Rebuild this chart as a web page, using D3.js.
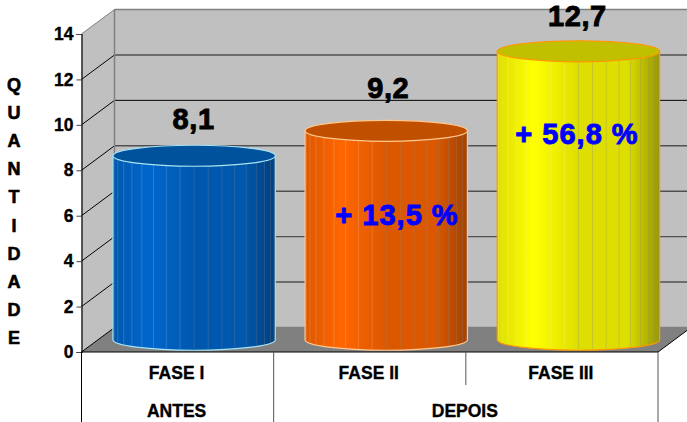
<!DOCTYPE html>
<html lang="en">
<head>
<meta charset="UTF-8">
<title>Quantidade por fase</title>
<script src="https://d3js.org/d3.v7.min.js"></script>
<style>
    body { margin: 0; background: #fff; }
    svg { display: block; }
    text { font-family: "Liberation Sans", Arial, sans-serif; font-weight: bold; fill: #000; }
    .cat-label { font-size: 17.5px; text-anchor: middle; stroke: #000; stroke-width: 0.35px; }
    .value-label { font-size: 29px; text-anchor: middle; letter-spacing: 0.6px; stroke: #000; stroke-width: 0.9px; }
    .pct-label { font-size: 29px; text-anchor: middle; letter-spacing: 1px; fill: #0000ff; stroke: #0000ff; stroke-width: 0.9px; }
    .title-letter { font-size: 18px; text-anchor: middle; stroke: #000; stroke-width: 0.6px; }
</style>
</head>
<body>
<svg class="chart" width="687" height="422"></svg>
<script>
    const categories = ["FASE I", "FASE II", "FASE III"];
    const values = [8.1, 9.2, 12.7];
    const valueLabels = ["8,1", "9,2", "12,7"];
    const pctLabels = [null, "+ 13,5 %", "+ 56,8 %"];
    const yTicks = [0, 2, 4, 6, 8, 10, 12, 14];
    const groups = ["ANTES", "DEPOIS"];
    const groupSpans = [[0, 0], [1, 2]];
    const yTitle = "QUANTIDADE";
    const barColors = [
        { light: "#0066cc", mid: "#0058ae", dark: "#003f7e", top: "#00529c", edge: "#a6e4f4" },
        { light: "#ff6600", mid: "#dc5800", dark: "#a34200", top: "#c05000", edge: "#ffc890" },
        { light: "#ffff00", mid: "#dede00", dark: "#999900", top: "#c0c000", edge: "#ff9900" }
    ];

    const svg = d3.select(".chart");
    const depthX = 33, depthY = 24.5;

    const x = d3.scaleBand().domain(categories).range([81.5, 658]);
    const y = d3.scaleLinear().domain([0, 14]).range([352, 34]);

    // back wall, side wall, floor
    const poly = pts => pts.map(p => p.join(",")).join(" ");
    const x0 = x.range()[0], x1 = x.range()[1];
    svg.append("polygon").attr("fill", "#c0c0c0")
        .attr("points", poly([[x0 + depthX, y(14) - depthY], [x1 + depthX, y(14) - depthY], [x1 + depthX, y(0) - depthY], [x0 + depthX, y(0) - depthY]]));
    svg.append("polygon").attr("fill", "#c0c0c0")
        .attr("points", poly([[x0, y(14)], [x0 + depthX, y(14) - depthY], [x0 + depthX, y(0) - depthY], [x0, y(0)]]));
    svg.append("polygon").attr("fill", "#808080")
        .attr("points", poly([[x0, y(0)], [x1, y(0)], [x1 + depthX, y(0) - depthY], [x0 + depthX, y(0) - depthY]]));

    // gridlines
    const grid = svg.append("g").attr("fill", "none");
    yTicks.forEach(t => {
        const c = t === 14 || t === 0 ? "#808080" : (t === 10 ? "#000" : "#505050");
        grid.append("line").attr("x1", x0 + depthX).attr("x2", x1 + depthX)
            .attr("y1", y(t) - depthY).attr("y2", y(t) - depthY)
            .attr("stroke", c).attr("stroke-width", t === 10 ? 1 : 1.4);
        grid.append("line").attr("x1", x0).attr("x2", x0 + depthX)
            .attr("y1", y(t)).attr("y2", y(t) - depthY)
            .attr("stroke", t === 14 ? "#808080" : "#000").attr("stroke-width", 1);
    });
    grid.append("line").attr("x1", x0 + depthX).attr("x2", x0 + depthX)
        .attr("y1", y(14) - depthY).attr("y2", y(0) - depthY)
        .attr("stroke", "#808080").attr("stroke-width", 1.5);
    grid.append("line").attr("x1", x1).attr("x2", x1 + depthX)
        .attr("y1", y(0)).attr("y2", y(0) - depthY).attr("stroke", "#000");

    // cylinders
    const defs = svg.append("defs");
    barColors.forEach((c, i) => {
        const g = defs.append("linearGradient").attr("id", "cyl" + i);
        [[0, c.mid], [0.22, c.light], [0.5, c.mid], [0.8, c.mid], [1, c.dark]].forEach(s => {
            g.append("stop").attr("offset", s[0]).attr("stop-color", s[1]);
        });
    });
    const barWidth = x.bandwidth() * 0.845;
    const ry = 10.5;
    const facets = d3.range(1, 18);

    categories.forEach((cat, i) => {
        const cx = x(cat) + x.bandwidth() / 2 + depthX / 2;
        const rx = barWidth / 2;
        const base = y(0) - depthY / 2;
        const top = y(values[i]) - depthY / 2;
        const c = barColors[i];
        const g = svg.append("g");
        g.append("path")
            .attr("d", `M${cx - rx},${top} L${cx - rx},${base} A${rx},${ry} 0 0 0 ${cx + rx},${base} L${cx + rx},${top} Z`)
            .attr("fill", `url(#cyl${i})`).attr("stroke", c.edge).attr("stroke-width", 1.2);
        // facet lines down the side
        facets.forEach(f => {
            const a = Math.PI * f / 18;
            const fx = cx - rx * Math.cos(a);
            const dy = ry * Math.sin(a);
            g.append("line").attr("x1", fx).attr("x2", fx)
                .attr("y1", top + dy).attr("y2", base + dy - 1)
                .attr("stroke", f < 9 ? "#fff" : "#888").attr("stroke-opacity", f < 9 ? 0.16 : 0.28);
        });
        g.append("ellipse").attr("cx", cx).attr("cy", top).attr("rx", rx).attr("ry", ry)
            .attr("fill", c.top).attr("stroke", c.edge).attr("stroke-width", 1.2);
    });

    // y axis
    const axis = svg.append("g").attr("transform", `translate(${x0},0)`)
        .call(d3.axisLeft(y).tickValues(yTicks).tickSize(5).tickPadding(3).tickFormat(d3.format("d")));
    axis.select(".domain").attr("stroke", "#000").attr("stroke-width", 1.2);
    axis.selectAll("line").attr("stroke", "#444");
    axis.selectAll("text")
        .style("font-size", "17.5px")
        .style("font-family", "'Liberation Sans', Arial, sans-serif")
        .style("stroke", "#000").style("stroke-width", "0.35px");

    // category table below the axis
    const tableBottom = 422, catBottom = 385;
    svg.append("line").attr("x1", x0).attr("x2", x1).attr("y1", y(0)).attr("y2", y(0)).attr("stroke", "#000").attr("stroke-width", 1.2);
    svg.append("line").attr("x1", x0).attr("x2", x0).attr("y1", y(0)).attr("y2", tableBottom).attr("stroke", "#000");
    svg.append("line").attr("x1", x1).attr("x2", x1).attr("y1", y(0)).attr("y2", tableBottom).attr("stroke", "#555");
    categories.slice(1).forEach((cat, i) => {
        svg.append("line").attr("x1", x(cat)).attr("x2", x(cat))
            .attr("y1", y(0)).attr("y2", i === 0 ? tableBottom : catBottom).attr("stroke", "#555");
    });
    categories.forEach(cat => {
        svg.append("text").attr("class", "cat-label")
            .attr("x", x(cat) + x.bandwidth() / 2 - 1).attr("y", 379).text(cat);
    });
    groups.forEach((g, i) => {
        const a = x(categories[groupSpans[i][0]]);
        const b = x(categories[groupSpans[i][1]]) + x.bandwidth();
        svg.append("text").attr("class", "cat-label").attr("x", (a + b) / 2 - 1).attr("y", 417).text(g);
    });

    // labels
    const labelRise = [27, 33, 25];
    const labelShift = [-0.5, 2, -1];
    const pctX = [0, 397, 577];
    const pctY = [0, 225, 144];
    categories.forEach((cat, i) => {
        const cx = x(cat) + x.bandwidth() / 2 + depthX / 2;
        svg.append("text").attr("class", "value-label")
            .attr("x", cx + labelShift[i]).attr("y", y(values[i]) - depthY / 2 - labelRise[i]).text(valueLabels[i]);
        if (pctLabels[i]) {
            svg.append("text").attr("class", "pct-label").attr("x", pctX[i]).attr("y", pctY[i]).text(pctLabels[i]);
        }
    });

    // vertical axis title, one letter per row
    const titleY = d3.scaleLinear().domain([0, yTitle.length - 1]).range([91, 344]);
    yTitle.split("").forEach((ch, i) => {
        svg.append("text").attr("class", "title-letter").attr("x", 14).attr("y", titleY(i)).text(ch);
    });
</script>
</body>
</html>
